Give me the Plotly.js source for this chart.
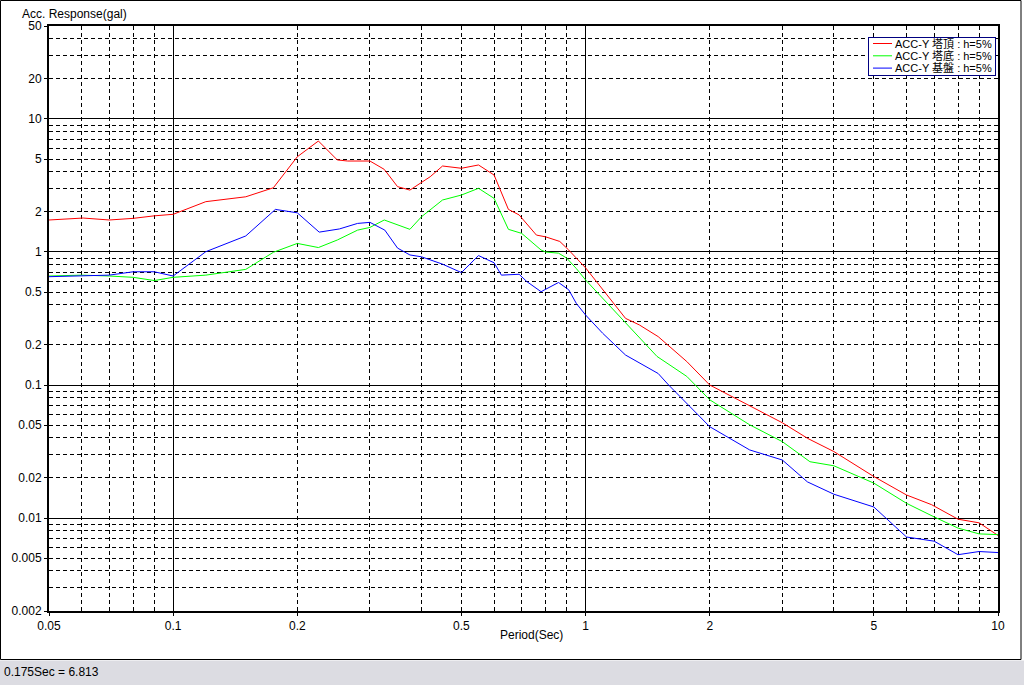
<!DOCTYPE html>
<html>
<head>
<meta charset="utf-8">
<script src="https://cdn.plot.ly/plotly-3.0.1.min.js"></script>
<style>
html,body{margin:0;padding:0;background:#fff;}
#chart{width:1024px;height:685px;}
</style>
</head>
<body>
<div id="chart"></div>
<script>
// ---- data ----
const seriesNames = ["ACC-Y 塔頂 : h=5%", "ACC-Y 塔底 : h=5%", "ACC-Y 基盤 : h=5%"];

const topPeriod = [0.05,0.0605,0.07,0.08,0.09,0.1,0.12,0.15,0.175,0.2,0.225,0.25,0.265,0.3,0.325,0.35,0.375,0.42,0.45,0.5,0.55,0.6,0.65,0.69,0.76,0.8,0.866,0.91,1.0,1.1,1.25,1.35,1.5,1.76,2.0,3.0,3.46,4.0,5.0,6.0,6.9,8.0,9.0,10];
const topAcc    = [1.74,1.80,1.74,1.79,1.87,1.92,2.39,2.60,3.04,5.20,6.83,4.92,4.83,4.83,4.18,3.10,2.92,3.68,4.43,4.26,4.51,3.79,2.09,1.90,1.34,1.30,1.20,1.035,0.76,0.52,0.317,0.283,0.231,0.15,0.10,0.052,0.0396,0.0316,0.0205,0.0149,0.0126,0.0098,0.0092,0.0074];

const botPeriod = [0.05,0.06,0.07,0.08,0.09,0.1,0.12,0.15,0.175,0.2,0.225,0.25,0.28,0.3,0.325,0.375,0.40,0.45,0.5,0.55,0.6,0.65,0.70,0.78,0.80,0.86,0.90,0.95,1.0,1.14,1.31,1.49,1.76,1.89,2.0,2.5,3.0,3.5,4.0,5.0,6.0,7.0,8.0,9.0,10];
const botAcc    = [0.66,0.67,0.66,0.645,0.61,0.645,0.67,0.74,0.995,1.16,1.08,1.23,1.46,1.53,1.74,1.48,1.84,2.46,2.68,3.01,2.53,1.48,1.38,1.035,1.0,0.98,0.90,0.75,0.616,0.40,0.252,0.164,0.116,0.093,0.0774,0.0502,0.0375,0.0265,0.0247,0.0183,0.0129,0.0102,0.0084,0.0076,0.0075];

const basePeriod = [0.05,0.06,0.07,0.08,0.09,0.1,0.12,0.15,0.177,0.2,0.226,0.253,0.28,0.3,0.326,0.35,0.375,0.40,0.45,0.5,0.55,0.6,0.625,0.69,0.72,0.78,0.86,0.91,0.95,1.0,1.1,1.25,1.35,1.5,1.59,1.89,2.0,2.5,3.0,3.45,4.0,5.0,6.0,7.0,8.0,9.0,10];
const baseAcc    = [0.652,0.66,0.67,0.71,0.71,0.66,1.005,1.32,2.09,1.97,1.41,1.49,1.64,1.67,1.46,1.07,0.95,0.92,0.81,0.70,0.94,0.83,0.67,0.68,0.60,0.503,0.59,0.52,0.41,0.336,0.245,0.168,0.146,0.122,0.10,0.0577,0.0486,0.0325,0.0273,0.0187,0.0151,0.0121,0.0072,0.0067,0.0053,0.0056,0.0055];

const xTickVals = [0.05,0.1,0.2,0.5,1,2,5,10];
const xTickText = ["0.05","0.1","0.2","0.5","1","2","5","10"];
const xDecades  = [0.1,1];
const xMinor    = [0.06,0.07,0.08,0.09,0.2,0.3,0.4,0.5,0.6,0.7,0.8,0.9,2,3,4,5,6,7,8,9];

const yTickVals = [0.002,0.005,0.01,0.02,0.05,0.1,0.2,0.5,1,2,5,10,20,50];
const yTickText = ["0.002","0.005","0.01","0.02","0.05","0.1","0.2","0.5","1","2","5","10","20","50"];
const yDecades  = [0.01,0.1,1,10];
const yMinor    = [0.003,0.004,0.005,0.006,0.007,0.008,0.009,0.02,0.03,0.04,0.05,0.06,0.07,0.08,0.09,0.2,0.3,0.4,0.5,0.6,0.7,0.8,0.9,2,3,4,5,6,7,8,9,20,30,40];

const statusText = "0.175Sec = 6.813";
const yTitle = "Acc. Response(gal)";
const xTitle = "Period(Sec)";

// ---- plot ----
const FONT = "Liberation Sans, Arial, Noto Sans CJK JP, sans-serif";
const L = 49, R = 998, T = 26, B = 611, W = 1024, H = 685;
const pw = R - L, ph = B - T;
const px = v => (v - L) / pw;
const py = v => (B - v) / ph;

const traces = [
  {x: topPeriod, y: topAcc, name: seriesNames[0], type: "scatter", mode: "lines", line: {color: "#ff0000", width: 1}},
  {x: botPeriod, y: botAcc, name: seriesNames[1], type: "scatter", mode: "lines", line: {color: "#00ff00", width: 1}},
  {x: basePeriod, y: baseAcc, name: seriesNames[2], type: "scatter", mode: "lines", line: {color: "#0000ff", width: 1}},
  {x: [], y: [], xaxis: "x2", yaxis: "y2", showlegend: false, hoverinfo: "skip", type: "scatter", mode: "lines"}
];

const xr = [Math.log10(0.05), Math.log10(10)];
const yr = [Math.log10(0.002), Math.log10(50)];
const dash = "4px,3px";

const layout = {
  width: W, height: H,
  margin: {l: L, r: W - R, t: T, b: H - B, pad: 0, autoexpand: false},
  paper_bgcolor: "#ffffff", plot_bgcolor: "#ffffff",
  font: {family: FONT, size: 12, color: "#000"},
  showlegend: true,
  legend: {
    x: px(995), y: py(37), xanchor: "right", yanchor: "top",
    bgcolor: "#ffffff", bordercolor: "#000080", borderwidth: 1,
    font: {family: FONT, size: 11, color: "#000"}, tracegroupgap: 0
  },
  xaxis: {
    type: "log", range: xr, tickmode: "array", tickvals: xTickVals, ticktext: xTickText,
    showgrid: false, zeroline: false, ticks: "outside", ticklen: 3, tickcolor: "#000",
    showline: true, linecolor: "#000", linewidth: 2, mirror: true,
    tickfont: {family: FONT, size: 12, color: "#000"},
    minor: {tickmode: "array", tickvals: xMinor, showgrid: true, gridcolor: "#000", gridwidth: 1, griddash: dash, ticks: ""}
  },
  yaxis: {
    type: "log", range: yr, tickmode: "array", tickvals: yTickVals, ticktext: yTickText,
    showgrid: false, zeroline: false, ticks: "outside", ticklen: 3, tickcolor: "#000",
    showline: true, linecolor: "#000", linewidth: 2, mirror: true,
    tickfont: {family: FONT, size: 12, color: "#000"},
    minor: {tickmode: "array", tickvals: yMinor, showgrid: true, gridcolor: "#000", gridwidth: 1, griddash: dash, ticks: ""}
  },
  xaxis2: {
    type: "log", range: xr, overlaying: "x", tickmode: "array", tickvals: xDecades,
    showgrid: true, gridcolor: "#000", gridwidth: 1, showticklabels: false, ticks: "", zeroline: false, showline: false
  },
  yaxis2: {
    type: "log", range: yr, overlaying: "y", tickmode: "array", tickvals: yDecades,
    showgrid: true, gridcolor: "#000", gridwidth: 1, showticklabels: false, ticks: "", zeroline: false, showline: false
  },
  shapes: [
    {type: "rect", xref: "paper", yref: "paper", x0: px(0.5), x1: px(1021), y0: py(659.5), y1: py(0.5),
     line: {color: "#000", width: 1}, fillcolor: "rgba(0,0,0,0)", layer: "below"},
    {type: "rect", xref: "paper", yref: "paper", x0: px(0), x1: px(1024), y0: py(685), y1: py(660.5),
     line: {width: 0}, fillcolor: "#dcdce2", layer: "below"}
  ],
  annotations: [
    {text: yTitle, xref: "paper", yref: "paper", x: px(20), y: py(14), xanchor: "left", yanchor: "middle",
     showarrow: false, font: {family: FONT, size: 12, color: "#000"}},
    {text: xTitle, xref: "paper", yref: "paper", x: px(531), y: py(635), xanchor: "center", yanchor: "middle",
     showarrow: false, font: {family: FONT, size: 12, color: "#000"}},
    {text: statusText, xref: "paper", yref: "paper", x: px(2), y: py(672), xanchor: "left", yanchor: "middle",
     showarrow: false, font: {family: FONT, size: 12, color: "#000"}}
  ]
};

const gd = document.getElementById("chart");
Plotly.newPlot(gd, traces, layout, {displayModeBar: false, staticPlot: true}).then(() => {
  // compact the legend to the classic dense look (smaller row pitch, short line samples)
  const leg = gd.querySelector(".legend");
  if (!leg) return;
  const boxW = 127, boxH = 38, rowH = 12.3, firstY = 6.5;
  leg.setAttribute("transform", "translate(868,37)");
  const bg = leg.querySelector("rect.bg");
  if (bg) { bg.setAttribute("width", boxW); bg.setAttribute("height", boxH); bg.setAttribute("x", 0.5); bg.setAttribute("y", 0.5); }
  const sb = leg.querySelector(".scrollbox");
  if (sb) { sb.removeAttribute("clip-path"); sb.setAttribute("transform", "translate(0,0)"); }
  const grp = leg.querySelector(".groups");
  if (grp) grp.setAttribute("transform", "translate(0,0)");
  leg.querySelectorAll(".traces").forEach((g, i) => {
    g.setAttribute("transform", `translate(0,${firstY + i * rowH})`);
    g.querySelectorAll(".legendlines path").forEach(p => p.setAttribute("d", "M5,0h19"));
    g.querySelectorAll("text.legendtext").forEach(t => {
      t.setAttribute("x", 27);
      t.querySelectorAll("tspan").forEach(s => { if (s.hasAttribute("x")) s.setAttribute("x", 27); });
    });
  });
});
</script>
</body>
</html>
